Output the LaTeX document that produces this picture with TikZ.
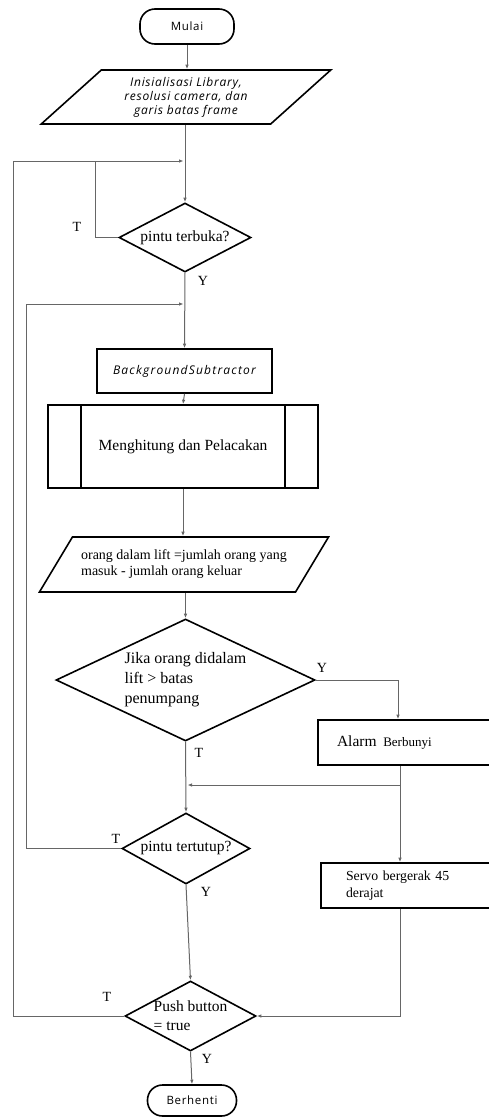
\documentclass[tikz,border=0pt]{standalone}
\usepackage{fontspec}
\setmainfont{Liberation Serif}
\newfontfamily\sansls[LetterSpace=6]{Open Sans}
\newfontfamily\sanswide[LetterSpace=10]{Open Sans}
\usetikzlibrary{shapes.geometric,arrows.meta,positioning}

\tikzset{
  term/.style={draw, line width=1.6pt, rounded corners=15pt, inner sep=0pt,
    font=\sansls\fontsize{11.5}{13}\selectfont},
  io/.style={draw, line width=1.6pt, trapezium, trapezium stretches=true, inner sep=0pt},
  proc/.style={draw, line width=1.6pt, inner sep=0pt},
  decide/.style={draw, line width=1.6pt, diamond, inner sep=0pt},
  flow/.style={draw=black!60, line width=1pt, -{Latex[length=4.5pt,width=3.5pt]}},
  plain/.style={draw=black!60, line width=1pt},
  yt/.style={font=\fontsize{14}{16}\selectfont},
}

\begin{document}
\begin{tikzpicture}[x=1pt,y=-1pt]
    \useasboundingbox (0,0) rectangle (488,1117);

    % Start
    \node[term, minimum width=94pt, minimum height=35pt] (mulai) at (187,26.5) {Mulai};

    % Init
    \node[io, trapezium left angle=42.5, trapezium right angle=137.5,
          minimum width=290pt, minimum height=54pt, align=center,
          font=\sansls\itshape\fontsize{12}{14}\selectfont] (init) at (186,97)
          {Inisialisasi Library,\\resolusi camera, dan\\garis batas frame};

    % Door open?
    \node[decide, aspect=1.91, minimum width=132pt, minimum height=69pt,
          font=\fontsize{15.5}{18}\selectfont] (buka) at (185,237.5) {pintu terbuka?};

    % Background subtraction
    \node[proc, minimum width=175pt, minimum height=44pt,
          font=\sanswide\itshape\fontsize{12}{14}\selectfont] (bgs) at (184.5,371) {BackgroundSubtractor};

    % Counting and tracking
    \node[proc, minimum width=270pt, minimum height=83pt,
          font=\fontsize{15.5}{18}\selectfont] (hitung) at (183,446.5) {Menghitung dan Pelacakan};
    \draw[line width=1.6pt] ([xshift=34pt]hitung.north west) -- ([xshift=34pt]hitung.south west);
    \draw[line width=1.6pt] ([xshift=-34pt]hitung.north east) -- ([xshift=-34pt]hitung.south east);

    % Count in lift
    \node[io, trapezium left angle=43.5, trapezium right angle=136.5,
          minimum width=290pt, minimum height=55pt, align=left,
          font=\fontsize{14}{16}\selectfont] (jumlah) at (184,564.5)
          {orang dalam lift =jumlah orang yang\\masuk - jumlah orang keluar};

    % Over limit?
    \node[decide, aspect=2.12, minimum width=259pt, minimum height=122pt, align=left,
          font=\fontsize{16}{20}\selectfont] (batas) at (185.5,680)
          {Jika orang didalam\\lift > batas\\penumpang};

    % Alarm
    \node[proc, minimum width=174pt, minimum height=45pt, inner xsep=19pt,
          text width=136pt, align=left] (alarm) at (405,742.5)
          {\fontsize{15.5}{18}\selectfont Alarm\ \ \fontsize{13}{16}\selectfont Berbunyi};

    % Door closed?
    \node[decide, aspect=1.8, minimum width=128pt, minimum height=71pt,
          font=\fontsize{15.5}{18}\selectfont] (tutup) at (186,848.5) {pintu tertutup?};

    % Servo
    \node[proc, minimum width=171pt, minimum height=45pt, inner xsep=25pt,
          text width=121pt, align=left, font=\fontsize{13.8}{17}\selectfont] (servo) at (406.5,885.5)
          {Servo bergerak 45\\derajat};

    % Push button
    \node[decide, aspect=1.87, minimum width=131pt, minimum height=70pt, inner sep=-2pt,
          align=left, font=\fontsize{15.5}{19}\selectfont] (tombol) at (190.5,1016)
          {Push button\\= true};

    % Stop
    \node[term, minimum width=89pt, minimum height=31pt] (stop) at (192,1100.5) {Berhenti};

    % Junctions
    \coordinate (j1) at (185,161);
    \coordinate (j2) at (185,304);
    \coordinate (luar) at (13,161);
    \coordinate (dalam) at (26,304);
    \coordinate (kiri) at (95,161);
    \coordinate (cabang) at (400,785);

    % Connectors
    \draw[flow] (mulai.south) -- (mulai.south |- init.north);
    \draw[flow] (buka.north |- init.south) -- (buka.north);
    \draw[plain] (buka.west) -| (kiri);
    \draw[flow, shorten >=1.5pt] (tombol.west) -| (luar) -- (j1);
    \draw[flow] (buka.south) -- (bgs.north);
    \draw[flow, shorten >=1.5pt] (tutup.west) -| (dalam) -- (j2);
    \draw[flow] (bgs.south) -- (hitung.north);
    \draw[flow] (hitung.south) -- (hitung.south |- jumlah.north);
    \draw[flow] (batas.north |- jumlah.south) -- (batas.north);
    \draw[flow] (batas.east) -| ([xshift=-7pt]alarm.north);
    \draw[flow] (cabang |- alarm.south) -- (cabang |- servo.north);
    \draw[flow, shorten >=2pt] (cabang) -- (cabang -| batas.south);
    \draw[flow] (batas.south) -- (tutup.north);
    \draw[flow] (tutup.south) -- (tombol.north);
    \draw[flow] (cabang |- servo.south) |- (tombol.east);
    \draw[flow] (tombol.south) -- (stop.north);

    % Labels
    \node[yt] (t1) at (77,227) {T};
    \node[yt] (y1) at (203,281) {Y};
    \node[yt] (y2) at (322,668) {Y};
    \node[yt] (t2) at (199,753) {T};
    \node[yt] (t3) at (116,839) {T};
    \node[yt] (y3) at (206,892) {Y};
    \node[yt] (t4) at (107,997) {T};
    \node[yt] (y4) at (207,1059) {Y};
\end{tikzpicture}
\end{document}
